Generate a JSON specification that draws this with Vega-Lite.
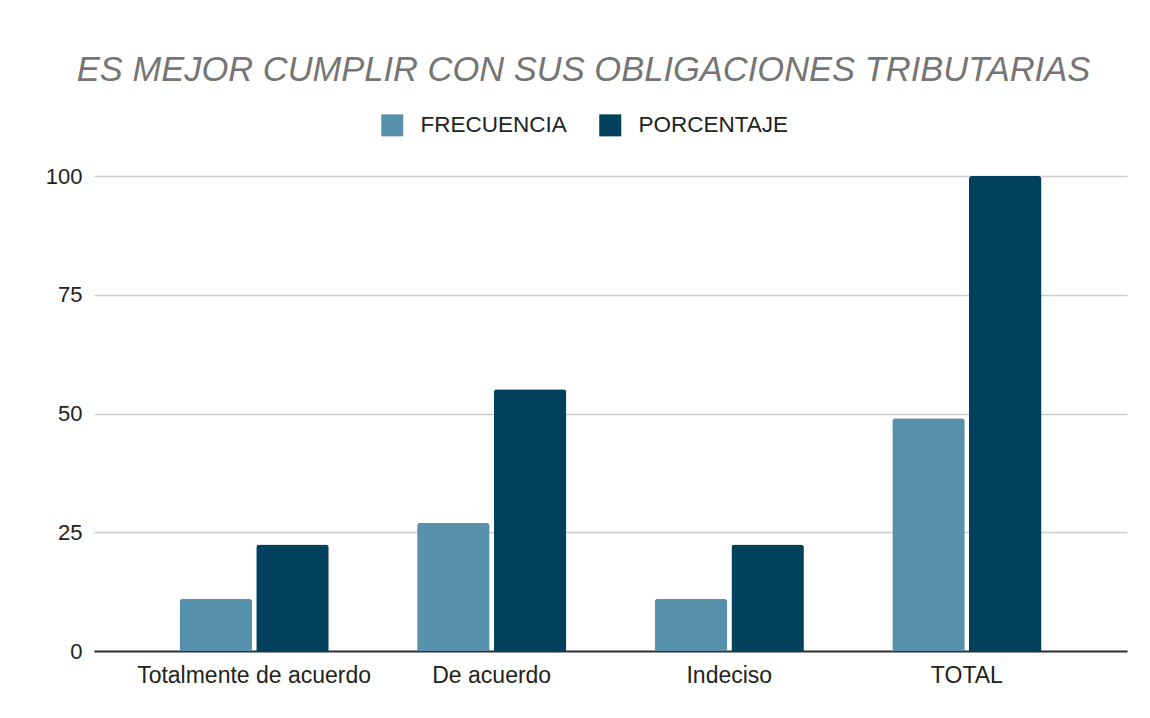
{
  "$schema": "https://vega.github.io/schema/vega-lite/v6.json",
  "width": 1033,
  "height": 475,
  "autosize": {"type": "none"},
  "padding": {"left": 94, "top": 176, "right": 23, "bottom": 67},
  "background": "white",
  "title": {
    "text": "ES MEJOR CUMPLIR CON SUS OBLIGACIONES TRIBUTARIAS",
    "font": "Liberation Sans",
    "fontSize": 34.5,
    "fontStyle": "italic",
    "fontWeight": "normal",
    "color": "#757575",
    "anchor": "middle",
    "frame": "group",
    "dx": -27,
    "offset": 26
  },
  "data": {
    "values": [
      {"categoria": "Totalmente de acuerdo", "serie": "FRECUENCIA", "valor": 11},
      {"categoria": "Totalmente de acuerdo", "serie": "PORCENTAJE", "valor": 22.4},
      {"categoria": "De acuerdo", "serie": "FRECUENCIA", "valor": 27},
      {"categoria": "De acuerdo", "serie": "PORCENTAJE", "valor": 55.1},
      {"categoria": "Indeciso", "serie": "FRECUENCIA", "valor": 11},
      {"categoria": "Indeciso", "serie": "PORCENTAJE", "valor": 22.4},
      {"categoria": "TOTAL", "serie": "FRECUENCIA", "valor": 49},
      {"categoria": "TOTAL", "serie": "PORCENTAJE", "valor": 100}
    ]
  },
  "mark": {"type": "bar", "cornerRadiusTopLeft": 3, "cornerRadiusTopRight": 3},
  "encoding": {
    "x": {
      "field": "categoria",
      "type": "nominal",
      "sort": ["Totalmente de acuerdo", "De acuerdo", "Indeciso", "TOTAL"],
      "scale": {"paddingInner": 0.372, "paddingOuter": 0.36},
      "axis": {
        "title": null,
        "labelAngle": 0,
        "labelFont": "Liberation Sans",
        "labelFontSize": 23,
        "labelColor": "#222222",
        "labelPadding": 13,
        "labelLimit": 0,
        "ticks": false,
        "domain": true,
        "domainColor": "#333333",
        "domainWidth": 2,
        "grid": false
      }
    },
    "xOffset": {
      "field": "serie",
      "type": "nominal",
      "scale": {"paddingInner": 0.055, "paddingOuter": 0}
    },
    "y": {
      "field": "valor",
      "type": "quantitative",
      "scale": {"domain": [0, 100], "nice": false},
      "axis": {
        "title": null,
        "values": [0, 25, 50, 75, 100],
        "labelFont": "Liberation Sans",
        "labelFontSize": 22,
        "labelColor": "#222222",
        "labelPadding": 12,
        "ticks": false,
        "domain": false,
        "grid": true,
        "gridColor": "#cccccc",
        "gridWidth": 1.5
      }
    },
    "color": {
      "field": "serie",
      "type": "nominal",
      "scale": {"domain": ["FRECUENCIA", "PORCENTAJE"], "range": ["#5891ab", "#02415e"]},
      "legend": {
        "title": null,
        "orient": "none",
        "direction": "horizontal",
        "legendX": 287,
        "legendY": -62,
        "symbolType": "square",
        "symbolSize": 484,
        "symbolStrokeWidth": 0,
        "symbolOpacity": 1,
        "labelFont": "Liberation Sans",
        "labelFontSize": 22.5,
        "labelColor": "#222222",
        "labelOffset": 17,
        "columnPadding": 32
      }
    }
  },
  "config": {
    "view": {"stroke": null}
  }
}
